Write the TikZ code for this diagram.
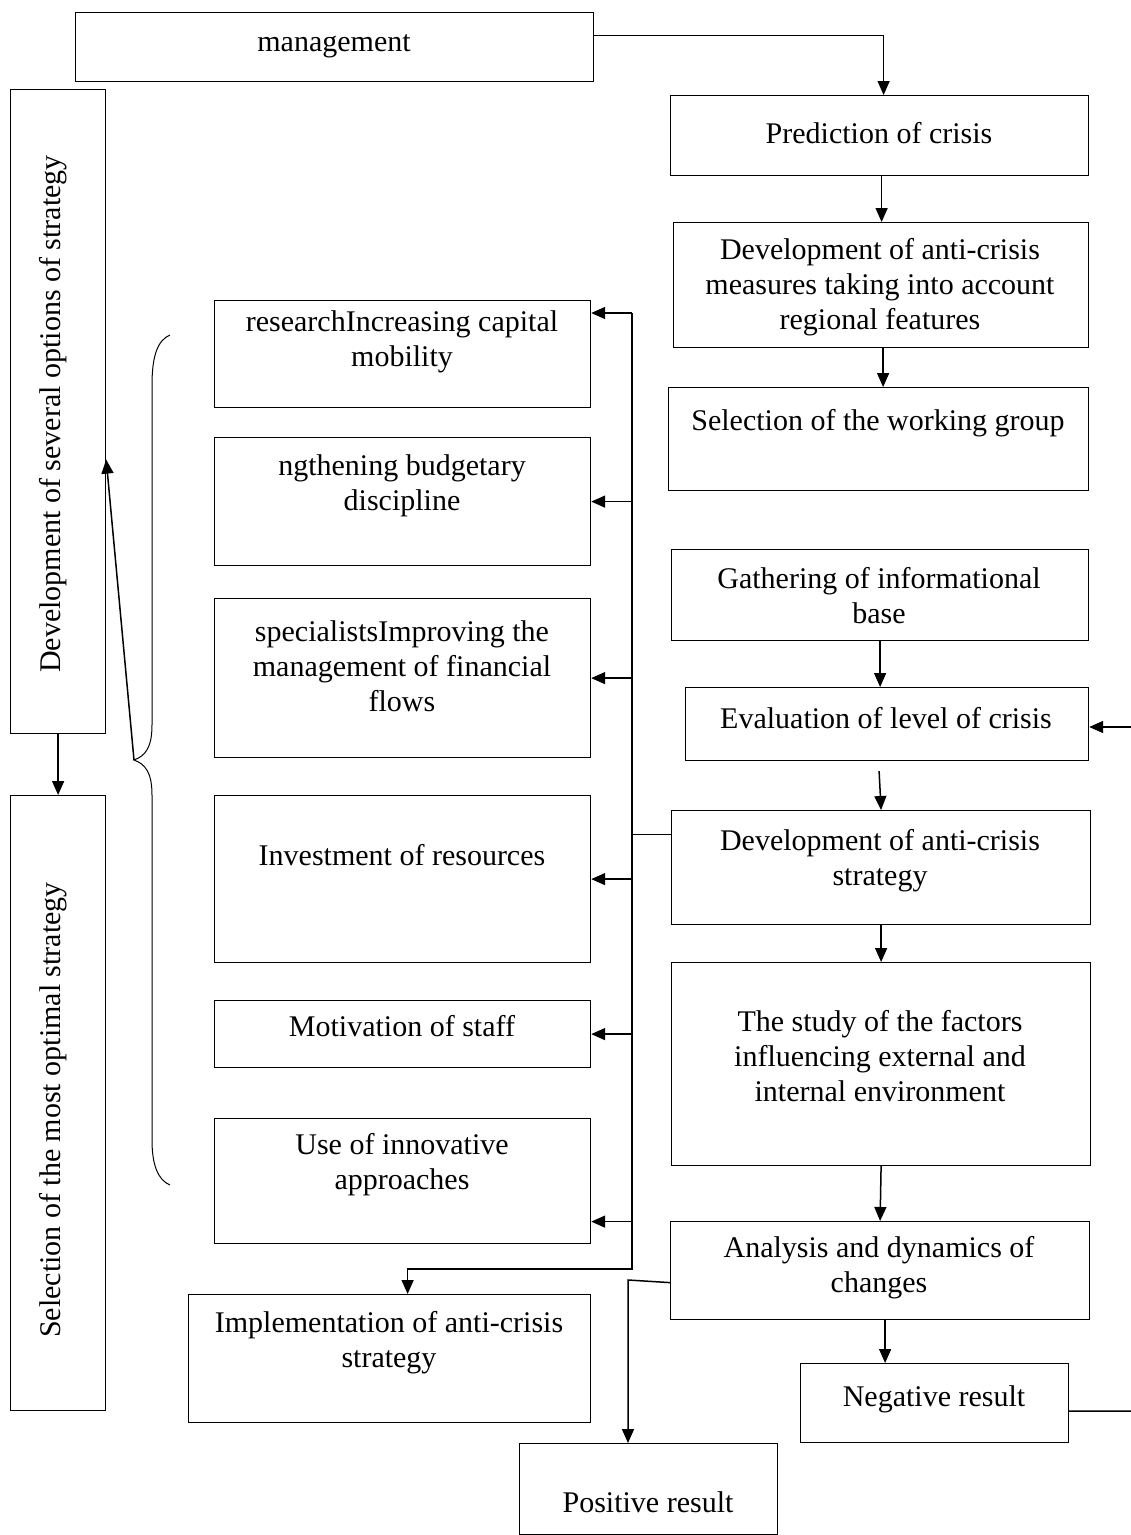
\documentclass[tikz,border=0pt]{standalone}
\usepackage{fontspec}
\setmainfont{Liberation Serif}
\usetikzlibrary{arrows.meta}
\begin{document}
\begin{tikzpicture}[x=1pt,y=-1pt,
  box/.style={draw, line width=1.2pt, inner sep=0pt, anchor=north west},
  txt/.style={align=center, font=\fontsize{30}{35}\selectfont, inner sep=0pt, yshift=-2pt},
  ln/.style={line width=1.5pt},
  arr/.style={line width=1.5pt, -{Triangle[length=14pt,width=12pt]}},
  brace/.style={line width=1pt}]
\useasboundingbox (0,0) rectangle (1131,1535);

% ---------- boxes ----------
\node[box, minimum width=518pt, minimum height=69pt]  (mgmt)     at (75,12) {};
\node[box, minimum width=95pt,  minimum height=644pt] (devopt)   at (10,89) {};
\node[box, minimum width=95pt,  minimum height=615pt] (selopt)   at (10,795) {};
\node[box, minimum width=418pt, minimum height=80pt]  (pred)     at (670,95) {};
\node[box, minimum width=415pt, minimum height=125pt] (devmeas)  at (673,222) {};
\node[box, minimum width=420pt, minimum height=103pt] (wgroup)   at (668,387) {};
\node[box, minimum width=417pt, minimum height=91pt]  (gather)   at (671,549) {};
\node[box, minimum width=403pt, minimum height=73pt]  (eval)     at (685,687) {};
\node[box, minimum width=419pt, minimum height=114pt] (devstrat) at (671,810) {};
\node[box, minimum width=419pt, minimum height=203pt] (study)    at (671,962) {};
\node[box, minimum width=419pt, minimum height=98pt]  (analysis) at (670,1221) {};
\node[box, minimum width=268pt, minimum height=79pt]  (negres)   at (800,1363) {};
\node[box, minimum width=258pt, minimum height=91pt]  (posres)   at (519,1443) {};
\node[box, minimum width=376pt, minimum height=107pt] (capital)  at (214,300) {};
\node[box, minimum width=376pt, minimum height=128pt] (budget)   at (214,437) {};
\node[box, minimum width=376pt, minimum height=159pt] (flows)    at (214,598) {};
\node[box, minimum width=376pt, minimum height=167pt] (invest)   at (214,795) {};
\node[box, minimum width=376pt, minimum height=67pt]  (motiv)    at (214,1000) {};
\node[box, minimum width=376pt, minimum height=125pt] (innov)    at (214,1118) {};
\node[box, minimum width=402pt, minimum height=128pt] (impl)     at (188,1294) {};

% ---------- texts ----------
\node[txt] (mgmt-t)     at (334,44)   {management};
\node[txt, rotate=90] (devopt-t) at (53,412) {Development of several options of strategy};
\node[txt, rotate=90] (selopt-t) at (53,1108) {Selection of the most optimal strategy};
\node[txt] (pred-t)     at (879,131)  {Prediction of crisis};
\node[txt] (devmeas-t)  at (880,285)  {Development of anti-crisis\\measures taking into account\\regional features};
\node[txt] (wgroup-t)   at (878,421)  {Selection of the working group};
\node[txt] (gather-t)   at (879,594)  {Gathering of informational\\base};
\node[txt] (eval-t)     at (886,716)  {Evaluation of level of crisis};
\node[txt] (devstrat-t) at (880,859)  {Development of anti-crisis\\strategy};
\node[txt] (study-t)    at (880,1054) {The study of the factors\\influencing external and\\internal environment};
\node[txt] (analysis-t) at (879,1266) {Analysis and dynamics of\\changes};
\node[txt] (negres-t)   at (934,1397) {Negative result};
\node[txt] (posres-t)   at (648,1500) {Positive result};
\node[txt] (capital-t)  at (402,340)  {researchIncreasing capital\\mobility};
\node[txt] (budget-t)   at (402,484)  {ngthening budgetary\\discipline};
\node[txt] (flows-t)    at (402,664)  {specialistsImproving the\\management of financial\\flows};
\node[txt] (invest-t)   at (402,853)  {Investment of resources};
\node[txt] (motiv-t)    at (402,1024) {Motivation of staff};
\node[txt] (innov-t)    at (402,1163) {Use of innovative\\approaches};
\node[txt] (impl-t)     at (389,1341) {Implementation of anti-crisis\\strategy};

% ---------- helper coordinates ----------
\coordinate (busT) at (632,313);
\coordinate (busB) at (632,1269);
\coordinate (fbE)  at (1131,727);
\coordinate (fbR)  at (1131,1411);
\coordinate (posT) at (628,1280);
\coordinate (brP)  at (134,760);

% ---------- right chain ----------
\draw[arr] ([yshift=11.5pt]mgmt.east) -| ([xshift=4pt]pred.north);
\draw[arr] ([xshift=2pt]pred.south) -- ([xshift=2pt]pred.south |- devmeas.north);
\draw[arr] ([xshift=2pt]devmeas.south) -- ([xshift=2pt]devmeas.south |- wgroup.north);
\draw[arr] (gather.south) -- (gather.south |- eval.north);
\draw[arr] ([xshift=-8pt,yshift=-10pt]eval.south) -- (devstrat.north);
\draw[arr] (devstrat.south) -- (study.north);
\draw[arr] (study.south) -- (analysis.north);
\draw[arr] ([xshift=5pt]analysis.south) -- ([xshift=5pt]analysis.south |- negres.north);
\draw[ln]  ([yshift=-8pt]negres.east) -- (fbR);
\draw[arr] (fbE) -- (fbE -| eval.east);

% ---------- bus to the measures ----------
\draw[ln]  ([yshift=33pt]devstrat.west) -- ([yshift=33pt]devstrat.west -| busT);
\draw[arr] (busT) -- (busB) -| ([xshift=18pt]impl.north);
\draw[arr] (busT) -- (busT -| capital.east);
\draw[arr] (busT |- budget.east) -- (budget.east);
\draw[arr] (busT |- flows.east) -- (flows.east);
\draw[arr] (busT |- invest.east) -- (invest.east);
\draw[arr] (busT |- motiv.east) -- (motiv.east);
\draw[arr] ([yshift=-40.5pt]innov.east -| busT) -- ([yshift=-40.5pt]innov.east);

% ---------- analysis to positive result ----------
\draw[arr] ([yshift=-12pt]analysis.west) -- (posT) -- (posT |- posres.north);

% ---------- left column ----------
\draw[arr] (devopt.south) -- (selopt.north);
\draw[brace] (170,335) .. controls (158,340) and (152,355) .. (152,385)
  -- (152,725) .. controls (152,748) and (145,756) .. (brP)
  .. controls (145,764) and (152,772) .. (152,795)
  -- (152,1140) .. controls (152,1165) and (158,1180) .. (170,1185);
\draw[arr] (brP) -- ([yshift=-48pt]devopt.east);
\end{tikzpicture}
\end{document}
